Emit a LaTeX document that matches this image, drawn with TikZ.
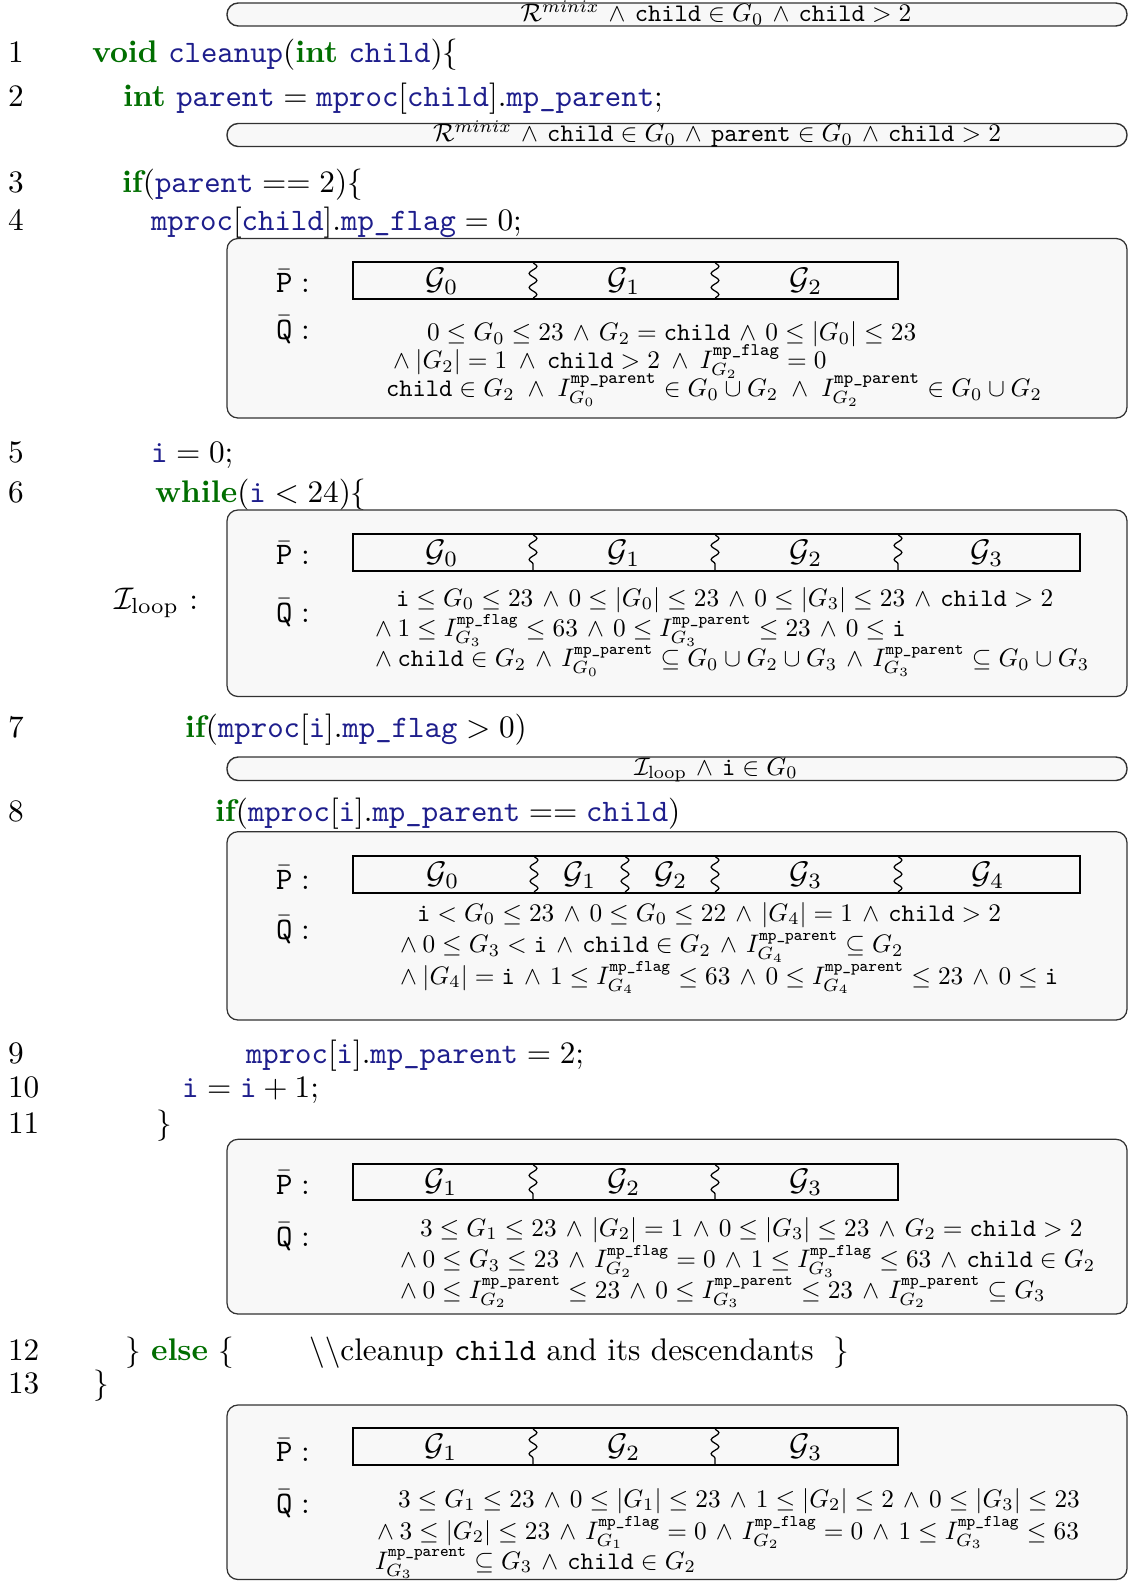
\documentclass[tikz,border=0pt]{standalone}
\usepackage{amsmath,amssymb,graphicx}
\usetikzlibrary{decorations.pathmorphing}
\definecolor{kwc}{RGB}{0,110,0}
\definecolor{idc}{RGB}{30,30,140}
\definecolor{boxfill}{RGB}{248,248,248}
\definecolor{boxdraw}{RGB}{50,50,50}
\newcommand{\kw}[1]{\textcolor{kwc}{\textbf{#1}}}
\newcommand{\idf}[1]{\textcolor{idc}{\texttt{#1}}}
\newcommand{\ch}{\texttt{child}}
\newcommand{\supsc}{0.92}
\newcommand{\wsp}{2.5}
\newcommand{\mpf}{\text{\scalebox{\supsc}{\texttt{mp\_flag}}}}
\newcommand{\mpp}{\text{\scalebox{\supsc}{\texttt{mp\_parent}}}}
\newcommand{\qm}[1]{\scalebox{0.81}{$#1$}}
\newcommand{\lw}{\wedge\:}
\newcommand{\w}{\mskip\wsp mu\wedge\mskip\wsp mu}
\begin{document}
\begin{tikzpicture}[x=0.32pt,y=-0.32pt,
  every node/.style={inner sep=0pt, outer sep=0pt},
  code/.style={anchor=base west},
  lnum/.style={anchor=base west},
  qline/.style={anchor=base west},
  plabel/.style={anchor=west},
  pilltext/.style={anchor=base},
  qbox/.style={draw=boxdraw, fill=boxfill, line width=0.4pt, rounded corners=3.5pt},
  pill/.style={draw=boxdraw, fill=boxfill, line width=0.45pt, rounded corners=3.6pt},
  bar/.style={draw=black, line width=0.65pt},
  wavy/.style={decorate, decoration={snake, amplitude=1.25pt, segment length=4.5pt}, line width=0.4pt},
  glab/.style={anchor=center}]
\useasboundingbox (0,0) rectangle (1129,1581);

% ---------- pill 1
\draw[pill] (227,3) rectangle (1127,26);
\node[pilltext] (p1) at (716,21.5) {\qm{\mathcal{R}^{minix} \w \ch \in G_0 \w \ch > 2}};

% ---------- lines 1-2
\node[lnum] (n1) at (8,63) {1};
\node[code] (c1) at (92,63) {$\kw{void}\ \idf{cleanup}(\kw{int}\ \idf{child})\{$};
\node[lnum] (n2) at (8,107) {2};
\node[code] (c2) at (123,107) {$\kw{int}\ \idf{parent} = \idf{mproc}[\idf{child}].\idf{mp\_parent};$};

% ---------- pill 2
\draw[pill] (227,123.5) rectangle (1127,146.5);
\node[pilltext] (p2) at (717,142) {\qm{\mathcal{R}^{minix} \w \ch \in G_0 \w \texttt{parent} \in G_0 \w \ch > 2}};

% ---------- lines 3-4
\node[lnum] (n3) at (8,192) {3};
\node[code] (c3) at (122,192) {$\kw{if}(\idf{parent} == 2)\{$};
\node[lnum] (n4) at (8,230.5) {4};
\node[code] (c4) at (151,230.5) {$\idf{mproc}[\idf{child}].\idf{mp\_flag} = 0;$};

% ---------- box 1
\draw[qbox] (227,238.5) rectangle (1127,418);
\node[plabel] (pb1) at (276,281) {$\bar{\texttt{P}}:$};
\draw[bar] (352.8,262) rectangle (898,299);
\draw[wavy] (533,262) -- (533,299);
\draw[wavy] (715,262) -- (715,299);
\node[glab] (g10) at (442,281) {$\mathcal{G}_0$};
\node[glab] (g11) at (624,281) {$\mathcal{G}_1$};
\node[glab] (g12) at (806,281) {$\mathcal{G}_2$};
\node[plabel] (qb1) at (276,330) {$\bar{\texttt{Q}}:$};
\renewcommand{\supsc}{1}
\node[qline] (q11) at (427,340.5) {\qm{0 \le G_0 \le 23 \w G_2 = \ch \w 0 \le |G_0| \le 23}};
\renewcommand{\wsp}{4.2}
\node[qline] (q12) at (393,368.5) {\qm{\lw |G_2| = 1 \w \ch > 2 \w I^{\mpf}_{G_2} = 0}};
\renewcommand{\wsp}{5.3}
\node[qline] (q13) at (386,396.5) {\qm{\ch \in G_2 \w I^{\mpp}_{G_0} \in G_0 \cup G_2 \w I^{\mpp}_{G_2} \in G_0 \cup G_2}};
\renewcommand{\wsp}{2.5}
\renewcommand{\supsc}{0.92}

% ---------- lines 5-6
\node[lnum] (n5) at (8,462) {5};
\node[code] (c5) at (151,462) {$\idf{i} = 0;$};
\node[lnum] (n6) at (8,502) {6};
\node[code] (c6) at (155,502) {$\kw{while}(\idf{i} < 24)\{$};

% ---------- box 2 (loop invariant)
\node[anchor=west] (iloop) at (114,603) {$\mathcal{I}_{\text{loop}}$ :};
\draw[qbox] (227,510) rectangle (1127,696.5);
\node[plabel] (pb2) at (276,553) {$\bar{\texttt{P}}:$};
\draw[bar] (352.8,534) rectangle (1080,570.7);
\draw[wavy] (533,534) -- (533,570.7);
\draw[wavy] (715,534) -- (715,570.7);
\draw[wavy] (898,534) -- (898,570.7);
\node[glab] (g20) at (442,553) {$\mathcal{G}_0$};
\node[glab] (g21) at (624,553) {$\mathcal{G}_1$};
\node[glab] (g22) at (806,553) {$\mathcal{G}_2$};
\node[glab] (g23) at (987,553) {$\mathcal{G}_3$};
\node[plabel] (qb2) at (276,613) {$\bar{\texttt{Q}}:$};
\node[qline] (q21) at (396,606) {\qm{\texttt{i} \le G_0 \le 23 \w 0 \le |G_0| \le 23 \w 0 \le |G_3| \le 23 \w \ch > 2}};
\node[qline] (q22) at (375,636.5) {\qm{\lw 1 \le I^{\mpf}_{G_3} \le 63 \w 0 \le I^{\mpp}_{G_3} \le 23 \w 0 \le \texttt{i}}};
\node[qline] (q23) at (375,666.5) {\qm{\lw \ch \in G_2 \w I^{\mpp}_{G_0} \subseteq G_0 \cup G_2 \cup G_3 \w I^{\mpp}_{G_3} \subseteq G_0 \cup G_3}};

% ---------- line 7
\node[lnum] (n7) at (8,737) {7};
\node[code] (c7) at (185,737) {$\kw{if}(\idf{mproc}[\idf{i}].\idf{mp\_flag} > 0)$};

% ---------- pill 3
\draw[pill] (227,757) rectangle (1127,780.5);
\node[pilltext] (p3) at (716,775) {\qm{\mathcal{I}_{\text{loop}} \w \texttt{i} \in G_0}};

% ---------- line 8
\node[lnum] (n8) at (8,821) {8};
\node[code] (c8) at (215,821) {$\kw{if}(\idf{mproc}[\idf{i}].\idf{mp\_parent} == \idf{child})$};

% ---------- box 3
\draw[qbox] (227,831.7) rectangle (1127,1020);
\node[plabel] (pb3) at (276,877.7) {$\bar{\texttt{P}}:$};
\draw[bar] (352.8,855.7) rectangle (1080,892.7);
\draw[wavy] (534,855.7) -- (534,892.7);
\draw[wavy] (625,855.7) -- (625,892.7);
\draw[wavy] (715,855.7) -- (715,892.7);
\draw[wavy] (898,855.7) -- (898,892.7);
\node[glab] (g30) at (443,875) {$\mathcal{G}_0$};
\node[glab] (g31) at (580,875) {$\mathcal{G}_1$};
\node[glab] (g32) at (671,875) {$\mathcal{G}_2$};
\node[glab] (g33) at (806,875) {$\mathcal{G}_3$};
\node[glab] (g34) at (988,875) {$\mathcal{G}_4$};
\node[plabel] (qb3) at (276,930) {$\bar{\texttt{Q}}:$};
\node[qline] (q31) at (417,921) {\qm{\texttt{i} < G_0 \le 23 \w 0 \le G_0 \le 22 \w |G_4| = 1 \w \ch > 2}};
\node[qline] (q32) at (400,952.5) {\qm{\lw 0 \le G_3 < \texttt{i} \w \ch \in G_2 \w I^{\mpp}_{G_4} \subseteq G_2}};
\node[qline] (q33) at (400,984) {\qm{\lw |G_4| = \texttt{i} \w 1 \le I^{\mpf}_{G_4} \le 63 \w 0 \le I^{\mpp}_{G_4} \le 23 \w 0 \le \texttt{i}}};

% ---------- lines 9-11
\node[lnum] (n9) at (8,1063) {9};
\node[code] (c9) at (246,1063) {$\idf{mproc}[\idf{i}].\idf{mp\_parent} = 2;$};
\node[lnum] (n10) at (8,1097) {10};
\node[code] (c10) at (182,1097) {$\idf{i} = \idf{i} + 1;$};
\node[lnum] (n11) at (8,1133) {11};
\node[code] (c11) at (156,1133) {$\}$};

% ---------- box 4
\draw[qbox] (227,1139.3) rectangle (1127,1314);
\node[plabel] (pb4) at (276,1182.3) {$\bar{\texttt{P}}:$};
\draw[bar] (352.8,1164) rectangle (898,1200);
\draw[wavy] (533,1164) -- (533,1200);
\draw[wavy] (715,1164) -- (715,1200);
\node[glab] (g41) at (441,1182) {$\mathcal{G}_1$};
\node[glab] (g42) at (624,1182) {$\mathcal{G}_2$};
\node[glab] (g43) at (806,1182) {$\mathcal{G}_3$};
\node[plabel] (qb4) at (276,1236.7) {$\bar{\texttt{Q}}:$};
\node[qline] (q41) at (420,1236) {\qm{3 \le G_1 \le 23 \w |G_2| = 1 \w 0 \le |G_3| \le 23 \w G_2 = \ch > 2}};
\node[qline] (q42) at (400,1267.5) {\qm{\lw 0 \le G_3 \le 23 \w I^{\mpf}_{G_2} = 0 \w 1 \le I^{\mpf}_{G_3} \le 63 \w \ch \in G_2}};
\node[qline] (q43) at (400,1298) {\qm{\lw 0 \le I^{\mpp}_{G_2} \le 23 \w 0 \le I^{\mpp}_{G_3} \le 23 \w I^{\mpp}_{G_2} \subseteq G_3}};

% ---------- lines 12-13
\node[lnum] (n12) at (8,1360) {12};
\node[code] (c12) at (125,1360) {$\}\ \kw{else}\ \{$\hspace{24pt}\textbackslash\textbackslash cleanup \texttt{child} and its descendants\hspace{6.5pt}$\}$};
\node[lnum] (n13) at (8,1393) {13};
\node[code] (c13) at (93,1393) {$\}$};

% ---------- box 5
\draw[qbox] (227,1405) rectangle (1127,1579.5);
\node[plabel] (pb5) at (276,1450) {$\bar{\texttt{P}}:$};
\draw[bar] (352.8,1428.3) rectangle (898,1465);
\draw[wavy] (533,1428.3) -- (533,1465);
\draw[wavy] (715,1428.3) -- (715,1465);
\node[glab] (g51) at (441,1447) {$\mathcal{G}_1$};
\node[glab] (g52) at (624,1447) {$\mathcal{G}_2$};
\node[glab] (g53) at (806,1447) {$\mathcal{G}_3$};
\node[plabel] (qb5) at (276,1503.3) {$\bar{\texttt{Q}}:$};
\node[qline] (q51) at (398,1507) {\qm{3 \le G_1 \le 23 \w 0 \le |G_1| \le 23 \w 1 \le |G_2| \le 2 \w 0 \le |G_3| \le 23}};
\node[qline] (q52) at (377,1539) {\qm{\lw 3 \le |G_2| \le 23 \w I^{\mpf}_{G_1} = 0 \w I^{\mpf}_{G_2} = 0 \w 1 \le I^{\mpf}_{G_3} \le 63}};
\node[qline] (q53) at (375,1569) {\qm{I^{\mpp}_{G_3} \subseteq G_3 \w \ch \in G_2}};
\end{tikzpicture}
\end{document}
